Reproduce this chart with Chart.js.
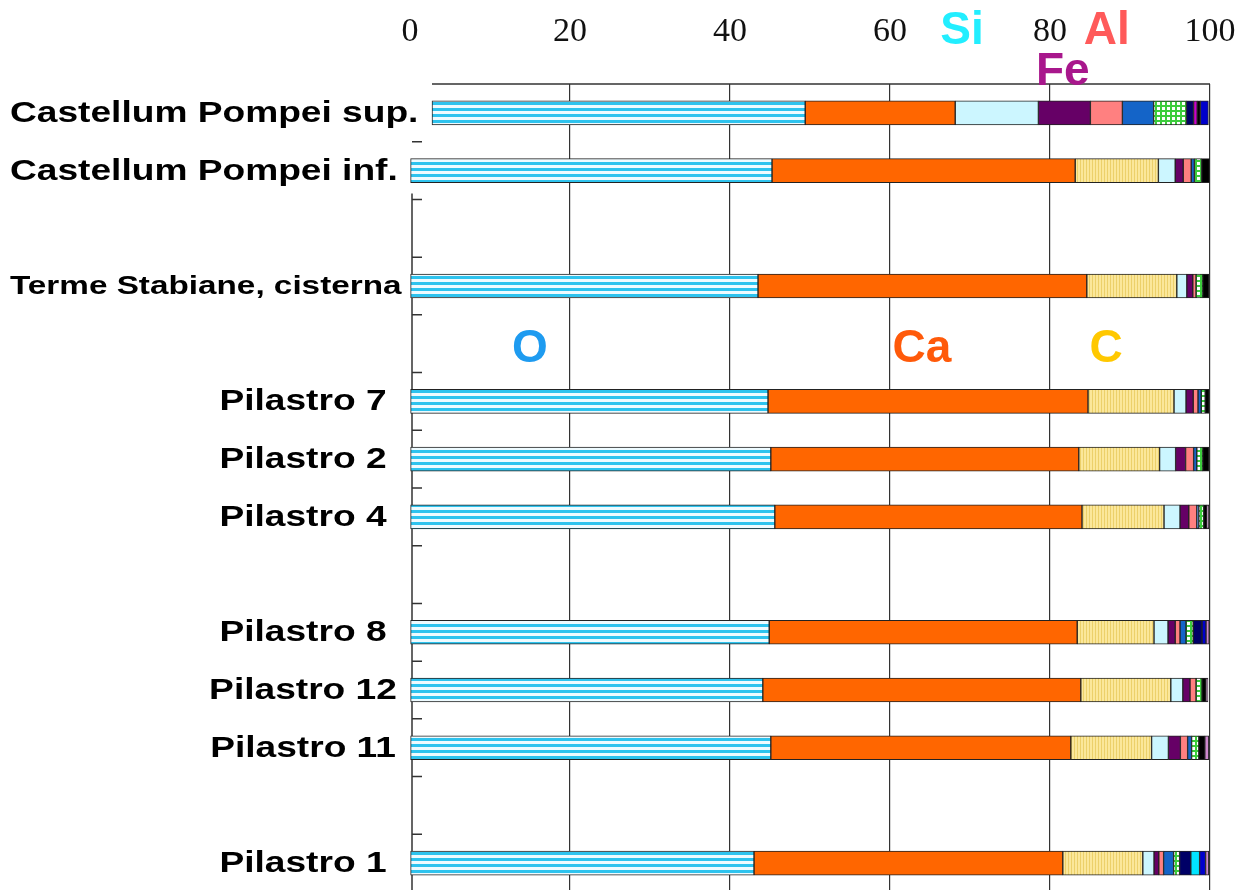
<!DOCTYPE html>
<html>
<head>
<meta charset="utf-8">
<script src="https://cdn.jsdelivr.net/npm/chart.js@4"></script>
<style>
  html, body { margin: 0; padding: 0; background: #fff; overflow: hidden; }
</style>
</head>
<body>
<canvas id="chart" width="1239" height="900"></canvas>
<script>
(function () {
  "use strict";

  // rows, top to bottom ("" = empty spacer row)
  const categories = [
    "Castellum Pompei sup.", "Castellum Pompei inf.", "", "Terme Stabiane, cisterna", "",
    "Pilastro 7", "Pilastro 2", "Pilastro 4", "",
    "Pilastro 8", "Pilastro 12", "Pilastro 11", "", "Pilastro 1"
  ];
  const xTicks = [0, 20, 40, 60, 80, 100];

  // element percentages per row
  const supOffset = [2.75, null, null, null, null, null, null, null, null, null, null, null, null, null];
  const O  = [46.65, 45.25, null, 43.5, null, 44.75, 45.1, 45.6, null, 44.9, 44.1, 45.1, null, 43.0];
  const Ca = [18.75, 37.9, null, 41.1, null, 40.0, 38.5, 38.4, null, 38.5, 39.75, 37.5, null, 38.6];
  const C  = [null, 10.4, null, 11.25, null, 10.75, 10.1, 10.25, null, 9.6, 11.25, 10.1, null, 10.0];
  const Si = [10.4, 2.1, null, 1.25, null, 1.5, 2.0, 2.0, null, 1.75, 1.5, 2.1, null, 1.4];
  const Fe = [6.5, 1.0, null, 0.75, null, 0.9, 1.25, 1.1, null, 0.9, 0.9, 1.5, null, 0.6];
  const Al = [4.0, 1.0, null, 0.4, null, 0.6, 1.0, 1.0, null, 0.6, 0.75, 0.9, null, 0.6];
  const Na = [3.9, 0.4, null, null, null, 0.4, 0.4, 0.25, null, 0.75, null, 0.5, null, 1.25];
  const Mg = [4.1, 0.9, null, 0.85, null, 0.5, 0.75, 0.6, null, 0.9, 0.75, 0.9, null, 0.75];
  const K  = [0.9, null, null, null, null, null, null, null, null, 1.1, null, null, null, 1.4];
  const Cl = [null, null, null, null, null, null, null, null, null, null, null, null, null, 1.1];
  const P  = [0.45, null, null, null, null, null, null, null, null, null, null, null, null, null];
  const S  = [0.4, 1.0, null, 0.75, null, 0.5, 0.75, 0.4, null, null, 0.5, 0.75, null, null];
  const Ti = [1.0, null, null, null, null, null, null, null, null, 0.5, null, null, null, 0.75];
  const Mn = [null, null, null, null, null, null, null, 0.25, null, 0.4, 0.25, 0.5, null, 0.4];

  // big coloured element names drawn over the plot
  const tags = [
    { text: "O",  x: 15,   row: 4, color: "#1e9bf0" },
    { text: "Ca", x: 64,   row: 4, color: "#ff5a0a" },
    { text: "C",  x: 87,   row: 4, color: "#ffc800" },
    { text: "Si", x: 69,   top: 31, color: "#22eeff" },
    { text: "Al", x: 87.1, top: 31, color: "#ff5a5a" },
    { text: "Fe", x: 81.6, top: 72, color: "#a8178c" }
  ];

  function makePattern(w, h, paint) {
    const c = document.createElement("canvas");
    c.width = w; c.height = h;
    paint(c.getContext("2d"));
    return c.getContext("2d").createPattern(c, "repeat");
  }

  const oFill = makePattern(1, 6, (g) => {
    g.fillStyle = "#eefbff"; g.fillRect(0, 0, 1, 6);
    g.fillStyle = "#2ec3ee"; g.fillRect(0, 0, 1, 3);
  });
  const cFill = makePattern(3, 1, (g) => {
    g.fillStyle = "#fbe79a"; g.fillRect(0, 0, 3, 1);
    g.fillStyle = "#ecd06a"; g.fillRect(0, 0, 1, 1);
  });
  const mgFill = makePattern(5, 5, (g) => {
    g.fillStyle = "#ffffff"; g.fillRect(0, 0, 5, 5);
    g.fillStyle = "#3ccc3c"; g.fillRect(0, 0, 5, 2); g.fillRect(0, 0, 2, 5);
  });

  const series = [
    ["O", O, oFill], ["Ca", Ca, "#ff6600"], ["C", C, cFill], ["Si", Si, "#ccf6ff"],
    ["Fe", Fe, "#660066"], ["Al", Al, "#ff8080"], ["Na", Na, "#1464c8"], ["Mg", Mg, mgFill],
    ["K", K, "#000066"], ["Cl", Cl, "#00e5ff"], ["P", P, "#cc00cc"], ["S", S, "#000000"],
    ["Ti", Ti, "#0000cc"], ["Mn", Mn, "#cc88cc"]
  ];

  const datasets = [{
    label: "offset", data: supOffset, backgroundColor: "rgba(0,0,0,0)", borderWidth: 0
  }].concat(series.map(([name, data, fill]) => ({
    label: name,
    data: data,
    backgroundColor: fill,
    borderColor: "#222",
    borderWidth: 1,
    borderSkipped: false
  })));

  const STRETCH = 1.28;

  const overlay = {
    id: "overlay",
    beforeDatasetsDraw(chart) {
      const { ctx, chartArea: a, scales: { x, y } } = chart;
      const edge = (i) => (y.getPixelForValue(i) + y.getPixelForValue(i + 1)) / 2;
      ctx.save();
      ctx.strokeStyle = "#333";
      ctx.lineWidth = 1.5;
      ctx.beginPath();
      ctx.moveTo(x.getPixelForValue(supOffset[0]), a.top);
      ctx.lineTo(a.right, a.top);
      ctx.moveTo(a.left + 2, edge(1) - 6);
      ctx.lineTo(a.left + 2, a.bottom);
      for (let i = 0; i < categories.length - 1; i++) {
        ctx.moveTo(a.left + 2, edge(i));
        ctx.lineTo(a.left + 12, edge(i));
      }
      ctx.stroke();
      ctx.restore();
    },
    afterDraw(chart) {
      const { ctx, scales: { x, y } } = chart;
      ctx.save();
      ctx.fillStyle = "#000";
      ctx.textBaseline = "middle";
      categories.forEach((lab, i) => {
        if (!lab) return;
        const size = lab.startsWith("Terme") ? 26 : 29;
        ctx.font = "bold " + size + "px 'Liberation Sans', Arial, sans-serif";
        const w = ctx.measureText(lab).width * STRETCH;
        const x0 = lab.startsWith("Pilastro") ? 303 - w / 2 : 10;
        ctx.save();
        ctx.translate(x0, y.getPixelForValue(i) + 1);
        ctx.scale(STRETCH, 1);
        ctx.fillText(lab, 0, 0);
        ctx.restore();
      });

      ctx.textAlign = "center";
      ctx.font = "bold 46px 'Liberation Sans', Arial, sans-serif";
      tags.forEach((t) => {
        const ty = t.row !== undefined ? y.getPixelForValue(t.row) + 6 : t.top;
        ctx.fillStyle = t.color;
        ctx.fillText(t.text, x.getPixelForValue(t.x), ty);
      });
      ctx.restore();
    }
  };

  new Chart(document.getElementById("chart").getContext("2d"), {
    type: "bar",
    data: { labels: categories, datasets },
    plugins: [overlay],
    options: {
      indexAxis: "y",
      responsive: false,
      animation: false,
      barThickness: 24,
      layout: { padding: { left: 0, right: 29, top: 0, bottom: 8 } },
      plugins: { legend: { display: false }, tooltip: { enabled: false } },
      scales: {
        x: {
          position: "top",
          stacked: true,
          min: 0,
          max: 100,
          afterFit: (s) => { s.height = 84; s.paddingLeft = 0; s.paddingRight = 0; },
          afterBuildTicks: (s) => { s.ticks = xTicks.map((v) => ({ value: v })); },
          border: { display: false },
          grid: {
            drawTicks: false,
            lineWidth: 1.2,
            color: (c) => (c.tick && c.tick.value === 0 ? "rgba(0,0,0,0)" : "#333")
          },
          ticks: {
            padding: 32,
            color: "#111",
            font: { family: "'Liberation Serif', 'Times New Roman', serif", size: 34 }
          }
        },
        y: {
          stacked: true,
          afterFit: (s) => { s.width = 410; },
          border: { display: false },
          grid: { display: false },
          ticks: { display: false }
        }
      }
    }
  });
})();
</script>
</body>
</html>
